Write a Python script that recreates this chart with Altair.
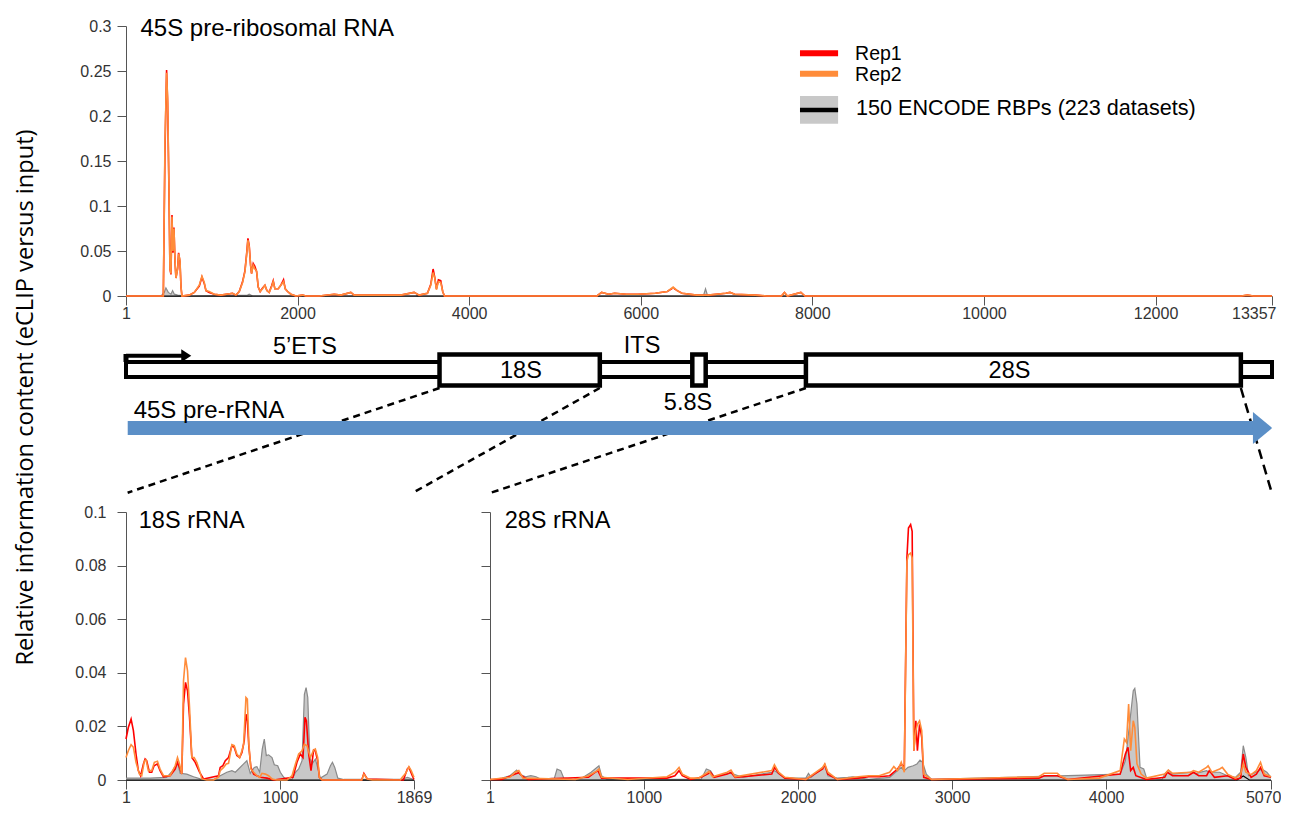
import altair as alt
import pandas as pd

# ---------------- 45S pre-ribosomal RNA (positions in nt, values = relative information) ----------------
P45_POS = [1, 400, 436, 455, 474, 486, 502, 513, 525, 537, 548, 560, 572, 583, 603, 614, 630, 642, 653,
           738, 797, 855, 886, 913, 933, 971, 1030, 1107, 1243, 1282, 1321, 1360, 1387, 1406, 1422, 1437,
           1453, 1464, 1484, 1503, 1523, 1542, 1565, 1593, 1620, 1643, 1670, 1697, 1717, 1736, 1775, 1806,
           1837, 1857, 1884, 1923, 1981, 2059, 2098, 2253, 2427, 2505, 2621, 2660, 2815, 3010, 3204, 3359,
           3417, 3514, 3553, 3580, 3599, 3619, 3642, 3669, 3692, 3712, 5490, 5544, 5626, 5695, 5831, 5968,
           6171, 6310, 6378, 6425, 6481, 6650, 6787, 6992, 7040, 7095, 7334, 7470, 7640, 7675, 7709, 7866,
           7914, 13000, 13071, 13140, 13357]
P45_REP2 = [0, 0, 0, 0.17, 0.248, 0.22, 0.12, 0.03, 0.025, 0.088, 0.05, 0.075, 0.04, 0.02, 0.03, 0.047, 0.04, 0.01, 0,
            0.001, 0.004, 0.012, 0.022, 0.015, 0.006, 0.005, 0.002, 0.001, 0.003, 0.001, 0.005, 0.015, 0.027, 0.045, 0.062, 0.055,
            0.035, 0.025, 0.034, 0.03, 0.028, 0.01, 0.005, 0.008, 0.012, 0.006, 0.004, 0.01, 0.016, 0.008, 0.008, 0.012,
            0.016, 0.008, 0.005, 0.002, 0, 0.001, 0, 0, 0.002, 0.001, 0.004, 0.001, 0.001, 0.001, 0.001, 0.004,
            0.001, 0.003, 0.012, 0.026, 0.02, 0.007, 0.016, 0.015, 0.005, 0, 0, 0.004, 0.002, 0.003, 0.002, 0.002,
            0.003, 0.005, 0.01, 0.006, 0.003, 0.001, 0.001, 0.003, 0.004, 0.002, 0.001, 0, 0, 0.004, 0, 0.004,
            0, 0, 0.001, 0, 0]
P45_REP1 = [0, 0, 0, 0.16, 0.251, 0.215, 0.115, 0.03, 0.024, 0.09, 0.048, 0.076, 0.038, 0.02, 0.031, 0.048, 0.038, 0.01, 0,
            0.001, 0.004, 0.011, 0.021, 0.014, 0.006, 0.004, 0.002, 0.001, 0.003, 0.001, 0.005, 0.016, 0.028, 0.046, 0.064, 0.056,
            0.034, 0.025, 0.036, 0.033, 0.027, 0.01, 0.005, 0.009, 0.012, 0.006, 0.004, 0.011, 0.017, 0.008, 0.008, 0.012,
            0.018, 0.008, 0.005, 0.002, 0, 0.001, 0, 0, 0.002, 0.001, 0.004, 0.001, 0.001, 0.001, 0.001, 0.004,
            0.001, 0.003, 0.013, 0.03, 0.021, 0.008, 0.018, 0.017, 0.005, 0, 0, 0.004, 0.002, 0.003, 0.002, 0.002,
            0.003, 0.005, 0.009, 0.006, 0.003, 0.001, 0.001, 0.003, 0.004, 0.002, 0.001, 0, 0, 0.004, 0, 0.004,
            0, 0, 0.001, 0, 0]
P45_ENC_POS = [1, 410, 447, 466, 494, 525, 544, 564, 603, 719, 1418, 1437, 1476, 3380, 3400, 3420, 6730, 6755, 6780, 13357]
P45_ENC = [0, 0, 0.004, 0.009, 0.004, 0.002, 0.006, 0.002, 0.001, 0, 0.001, 0.002, 0, 0, 0.001, 0, 0, 0.008, 0, 0]
P45_MED_POS = [1, 13357]
P45_MED = [0, 0]

# ---------------- 18S rRNA ----------------
R18_REP1_POS = [1, 16, 34, 49, 66, 81, 96, 114, 125, 135, 153, 168, 183, 205, 222, 244, 287, 320, 335, 352,
                363, 374, 387, 400, 413, 428, 450, 478, 504, 601, 612, 629, 645, 666, 688, 703, 720, 738, 753, 768,
                779, 788, 798, 811, 829, 850, 872, 915, 959, 1084, 1110, 1132, 1149, 1162, 1171, 1186, 1201, 1218,
                1229, 1244, 1255, 1275, 1530, 1544, 1566, 1800, 1826, 1836, 1858, 1869]
R18_REP1 = [0.0153, 0.0196, 0.0227, 0.0184, 0.0097, 0.0035, 0.0016, 0.006, 0.0078, 0.0072, 0.0029, 0.0029, 0.0053,
            0.006, 0.0035, 0.0012, 0.0016, 0.0041, 0.0066, 0.0041, 0.0022, 0.0283, 0.0364, 0.0333, 0.0234, 0.0084,
            0.0066, 0.0029, 0.0004, 0.0016, 0.0047, 0.0053, 0.0072, 0.0084, 0.0128, 0.0122, 0.0091, 0.0084, 0.0103,
            0.0147, 0.0246, 0.0221, 0.0122, 0.0047, 0.0022, 0.0016, 0.001, 0.0007, 0, 0.001, 0.0066, 0.0097, 0.0084,
            0.0234, 0.0221, 0.0097, 0.0035, 0.0112, 0.0109, 0.0072, 0.001, 0, 0, 0.0025, 0.0004, 0, 0.0041, 0.0047,
            0.0016, 0.0002]
R18_REP2_POS = [1, 16, 34, 49, 66, 88, 103, 120, 131, 146, 168, 185, 205, 222, 244, 287, 320, 335, 348, 363,
                374, 387, 400, 413, 428, 443, 460, 478, 493, 525, 569, 601, 612, 634, 651, 666, 688, 703, 720, 738,
                753, 764, 779, 788, 798, 811, 829, 850, 868, 883, 905, 926, 948, 980, 1045, 1078, 1100, 1121, 1143,
                1158, 1175, 1197, 1218, 1229, 1244, 1255, 1273, 1530, 1544, 1566, 1600, 1780, 1793, 1815, 1836, 1851,
                1869]
R18_REP2 = [0.0084, 0.0109, 0.0132, 0.0122, 0.0066, 0.0022, 0.0016, 0.007, 0.0075, 0.0035, 0.0035, 0.0066, 0.007,
            0.0041, 0.0016, 0.0016, 0.0053, 0.0084, 0.006, 0.0022, 0.037, 0.0457, 0.0407, 0.0271, 0.0084, 0.0084,
            0.0066, 0.0035, 0.0004, 0, 0, 0.001, 0.0035, 0.0047, 0.006, 0.0062, 0.0132, 0.0128, 0.0097, 0.0084,
            0.0109, 0.0134, 0.0308, 0.0302, 0.0134, 0.0041, 0.0029, 0.0016, 0.001, 0.0025, 0.0022, 0.0016, 0.0004,
            0, 0, 0.0016, 0.006, 0.0097, 0.0109, 0.0134, 0.0128, 0.0084, 0.0112, 0.0116, 0.0084, 0.001, 0, 0,
            0.0022, 0.0004, 0, 0, 0.001, 0.0025, 0.005, 0.0035, 0.001]
R18_ENC_POS = [1, 157, 265, 304, 335, 352, 395, 439, 482, 569, 612, 655, 688, 710, 731, 764, 785, 807, 833, 850,
               868, 885, 898, 911, 926, 948, 963, 985, 1002, 1024, 1045, 1078, 1100, 1121, 1143, 1158, 1169, 1180,
               1193, 1208, 1229, 1244, 1262, 1305, 1327, 1340, 1355, 1375, 1414, 1782, 1826, 1869]
R18_ENC = [0.0007, 0.0007, 0.001, 0.0035, 0.0066, 0.0025, 0.0022, 0.0012, 0.0004, 0.0002, 0.0016, 0.0029, 0.0035,
           0.0029, 0.0041, 0.006, 0.0072, 0.0025, 0.0047, 0.005, 0.0029, 0.0116, 0.0153, 0.0091, 0.0094, 0.0084,
           0.0057, 0.0053, 0.0029, 0.001, 0.0002, 0.0002, 0.0029, 0.0041, 0.0072, 0.032, 0.0345, 0.0308, 0.0084,
           0.006, 0.0078, 0.0047, 0.0007, 0.0022, 0.0053, 0.0066, 0.0047, 0.0007, 0.0002, 0.0002, 0.001, 0.0002]
R18_MED_POS = [1, 1869]
R18_MED = [0, 0]

# ---------------- 28S rRNA ----------------
R28_REP1_POS = [1, 79, 113, 164, 188, 215, 249, 640, 674, 701, 725, 1150, 1201, 1228, 1249, 1303, 1371, 1412, 1432,
                1456, 1541, 1565, 1592, 1830, 1847, 1874, 1915, 2051, 2160, 2174, 2194, 2255, 2391, 2459, 2527, 2595,
                2646, 2670, 2690, 2707, 2717, 2731, 2741, 2752, 2765, 2775, 2789, 2803, 2816, 2867, 3564, 3598, 3683,
                3751, 4091, 4125, 4142, 4159, 4176, 4193, 4261, 4380, 4397, 4431, 4533, 4567, 4601, 4652, 4669, 4703,
                4788, 4839, 4873, 4890, 4907, 4941, 4975, 5002, 5026, 5070]
R28_REP1 = [0.0002, 0.0002, 0.001, 0.0022, 0.0027, 0.0012, 0.0002, 0.001, 0.0025, 0.0035, 0.0007, 0.0007, 0.0016,
            0.0035, 0.0016, 0.0002, 0.001, 0.0022, 0.0029, 0.001, 0.0022, 0.0029, 0.001, 0.0022, 0.0047, 0.0025,
            0.0007, 0.0002, 0.0041, 0.0057, 0.0022, 0.0002, 0.0007, 0.0012, 0.0012, 0.0016, 0.0041, 0.006, 0.0047,
            0.0829, 0.094, 0.0953, 0.0928, 0.0109, 0.0221, 0.0109, 0.0208, 0.0159, 0.001, 0.0002, 0.0007, 0.0016,
            0.0016, 0.0002, 0.0022, 0.0097, 0.0122, 0.0035, 0.0047, 0.0016, 0.0002, 0.001, 0.0029, 0.0016, 0.0016,
            0.0029, 0.0016, 0.0016, 0.0035, 0.001, 0.0016, 0.0002, 0.0007, 0.0097, 0.0047, 0.001, 0.0022, 0.0047,
            0.0016, 0.001]
R28_REP2_POS = [1, 130, 164, 188, 215, 555, 640, 691, 708, 725, 895, 1150, 1201, 1228, 1249, 1303, 1354, 1405, 1422,
                1446, 1541, 1565, 1592, 1830, 1847, 1874, 1915, 2051, 2160, 2174, 2194, 2255, 2391, 2459, 2527, 2595,
                2622, 2646, 2670, 2690, 2707, 2717, 2731, 2741, 2752, 2765, 2775, 2789, 2803, 2816, 2867, 3564, 3598,
                3683, 3700, 3751, 3955, 4091, 4118, 4132, 4146, 4159, 4176, 4186, 4200, 4227, 4261, 4380, 4404, 4431,
                4550, 4567, 4601, 4652, 4662, 4686, 4737, 4754, 4788, 4839, 4873, 4890, 4907, 4941, 4975, 5002, 5026,
                5070]
R28_REP2 = [0.0002, 0.001, 0.0029, 0.0035, 0.0007, 0.0002, 0.0016, 0.0032, 0.0041, 0.001, 0.0002, 0.0012, 0.0029,
            0.0047, 0.0022, 0.0007, 0.0007, 0.0025, 0.0032, 0.0012, 0.0029, 0.0037, 0.0012, 0.0035, 0.0057, 0.0029,
            0.001, 0.0002, 0.0047, 0.006, 0.0029, 0.0002, 0.0012, 0.0016, 0.0016, 0.0029, 0.005, 0.0035, 0.0066,
            0.0029, 0.0816, 0.0841, 0.0847, 0.0829, 0.0109, 0.0184, 0.0208, 0.0221, 0.0184, 0.0022, 0.0002, 0.0012,
            0.0025, 0.0025, 0.0016, 0.0002, 0.0007, 0.0035, 0.0153, 0.014, 0.0283, 0.0109, 0.0221, 0.0196, 0.006,
            0.0022, 0.0007, 0.0022, 0.0037, 0.0025, 0.0029, 0.0035, 0.0029, 0.0047, 0.0053, 0.0029, 0.0041, 0.0047,
            0.0022, 0.0007, 0.0022, 0.006, 0.0029, 0.002, 0.0035, 0.0066, 0.0022, 0.0012]
R28_ENC_POS = [1, 79, 130, 174, 198, 232, 266, 300, 334, 419, 436, 460, 480, 538, 606, 657, 708, 725, 759, 1371,
               1405, 1432, 1456, 1541, 1565, 1643, 1830, 1847, 1915, 2051, 2068, 2085, 2160, 2174, 2194, 2255, 2323,
               2357, 2459, 2595, 2646, 2670, 2690, 2714, 2748, 2772, 2792, 2809, 2833, 2867, 4091, 4125, 4152, 4176,
               4186, 4200, 4220, 4244, 4261, 4363, 4380, 4404, 4431, 4550, 4584, 4652, 4669, 4737, 4788, 4839, 4873,
               4890, 4907, 4924, 4958, 4992, 5009, 5043, 5070]
R28_ENC = [0, 0.0007, 0.0016, 0.0037, 0.002, 0.0012, 0.0016, 0.0012, 0.0002, 0.0007, 0.0041, 0.0035, 0.0007, 0.0002,
           0.001, 0.0029, 0.0053, 0.0016, 0.0002, 0.0002, 0.0041, 0.0035, 0.0012, 0.0025, 0.0025, 0.001, 0.0029,
           0.0035, 0.0007, 0.0007, 0.0025, 0.001, 0.0047, 0.0053, 0.0016, 0.0007, 0.001, 0.0012, 0.0002, 0.001,
           0.0035, 0.0047, 0.0035, 0.0047, 0.0053, 0.006, 0.0074, 0.0066, 0.0022, 0.0002, 0.0022, 0.0072, 0.0208,
           0.0333, 0.0342, 0.0283, 0.0047, 0.0041, 0.001, 0.0002, 0.0022, 0.0037, 0.0022, 0.0029, 0.0025, 0.0035,
           0.0029, 0.0029, 0.0016, 0.001, 0.0029, 0.0128, 0.0084, 0.0016, 0.0025, 0.0035, 0.0041, 0.0029, 0.001]
R28_MED_POS = [1, 4850, 4890, 4930, 5070]
R28_MED = [0, 0, 0.0015, 0, 0]

# ---------------- axis ticks ----------------
P45_XTICKS = [1, 2000, 4000, 6000, 8000, 10000, 12000, 13357]
P45_YTICKS = [0, 0.05, 0.1, 0.15, 0.2, 0.25, 0.3]
R18_XTICKS = [1, 1000, 1869]
R28_XTICKS = [1, 1000, 2000, 3000, 4000, 5070]
R_YTICKS = [0, 0.02, 0.04, 0.06, 0.08, 0.1]

# ---------------- 45S gene structure (nt) ----------------
BOX_NAMES = ["18S", "5.8S", "28S"]
BOX_START = [3655, 6601, 7925]
BOX_END = [5523, 6757, 12994]

FONT = "Liberation Sans"
RED = "#ff0000"
ORANGE = "#ff8c3a"
GRAY_FILL = "#c8c8c8"
GRAY_LINE = "#8a8a8a"
BLUE = "#5b8fc7"


def encs(xdom, ydom, xticks, yticks, ylabels, ylabelpad, last=None, last_off=0):
    xaxis = dict(values=xticks, format="d", title=None, labelPadding=0)
    if last is not None:
        xaxis["labelAlign"] = {"condition": {"test": "datum.value == %d" % last, "value": "right"},
                               "value": "center"}
        xaxis["labelOffset"] = {"condition": {"test": "datum.value == %d" % last, "value": last_off},
                                "value": 0}
    x = alt.X("pos:Q", scale=alt.Scale(domain=xdom, nice=False, zero=False), axis=alt.Axis(**xaxis))
    y = alt.Y("val:Q", scale=alt.Scale(domain=ydom, nice=False, zero=False),
              axis=alt.Axis(values=yticks, format=".2~f", title=None, labels=ylabels, labelPadding=ylabelpad))
    return x, y


def series_layers(x, y, enc_pos, enc, med_pos, med, r1_pos, r1, r2_pos, r2):
    d_enc = pd.DataFrame({"pos": enc_pos, "val": enc})
    d_med = pd.DataFrame({"pos": med_pos, "val": med})
    d_r1 = pd.DataFrame({"pos": r1_pos, "val": r1})
    d_r2 = pd.DataFrame({"pos": r2_pos, "val": r2})
    return [
        alt.Chart(d_enc).mark_area(color=GRAY_FILL, opacity=1).encode(x=x, y=y),
        alt.Chart(d_enc).mark_line(color=GRAY_LINE, strokeWidth=1.2).encode(x=x, y=y),
        alt.Chart(d_med).mark_line(color="black", strokeWidth=1.2).encode(x=x, y=y),
        alt.Chart(d_r1).mark_line(color=RED, strokeWidth=1.6).encode(x=x, y=y),
        alt.Chart(d_r2).mark_line(color=ORANGE, strokeWidth=1.6).encode(x=x, y=y),
    ]


def title_layer(x, y, pos, val, text, fs):
    d = pd.DataFrame({"pos": [pos], "val": [val], "t": [text]})
    return alt.Chart(d).mark_text(align="left", baseline="alphabetic", font=FONT, fontSize=fs,
                                  color="black").encode(x=x, y=y, text="t:N")


# ---------- top panel ----------
x45, y45 = encs([1, 13357], [0, 0.3], P45_XTICKS, P45_YTICKS, True, 6, last=13357, last_off=4)
top_layers = series_layers(x45, y45, P45_ENC_POS, P45_ENC, P45_MED_POS, P45_MED,
                           P45_POS, P45_REP1, P45_POS, P45_REP2)
top_layers.append(title_layer(x45, y45, 170, 0.2891, "45S pre-ribosomal RNA", 24))

leg_gray = pd.DataFrame({"pos": [7856], "pos2": [8300], "val": [0.2222], "val2": [0.1914]})
leg_lines = pd.DataFrame({"pos": [7856, 7856, 7856], "pos2": [8300, 8300, 8300],
                          "val": [0.2697, 0.2470, 0.2067], "c": [RED, ORANGE, "black"],
                          "w": [6, 6, 4.5]})
leg_text = pd.DataFrame({"pos": [8498, 8498, 8509], "val": [0.2689, 0.2456, 0.2078],
                         "t": ["Rep1", "Rep2", "150 ENCODE RBPs (223 datasets)"], "fs": [19.5, 19.5, 21.6]})
top_layers += [
    alt.Chart(leg_gray).mark_rect(color=GRAY_FILL).encode(x=x45, x2="pos2:Q", y=y45, y2="val2:Q"),
    alt.Chart(leg_lines).mark_rule().encode(x=x45, x2="pos2:Q", y=y45,
                                             color=alt.Color("c:N", scale=None),
                                             strokeWidth=alt.StrokeWidth("w:Q", scale=None)),
    alt.Chart(leg_text).mark_text(align="left", baseline="middle", font=FONT, color="black").encode(
        x=x45, y=y45, text="t:N", size=alt.Size("fs:Q", scale=None)),
]
top = alt.layer(*top_layers).properties(width=1146, height=270)

# ---------- schematic ----------
SX = alt.Scale(domain=[1, 13357], nice=False, zero=False)
SY = alt.Scale(domain=[206, 0], nice=False, zero=False)


def sxe(f):
    return alt.X(f, scale=SX, axis=None)


def sye(f):
    return alt.Y(f, scale=SY, axis=None)


thin = pd.DataFrame({"a": [1], "b": [13357], "c": [61], "d": [76]})
boxes = pd.DataFrame({"a": BOX_START, "b": BOX_END, "c": [53.5] * 3, "d": [84.5] * 3, "n": BOX_NAMES})
dash_a = pd.DataFrame({"a": [BOX_START[0], BOX_END[0], BOX_START[2]], "c": [87, 87, 87],
                       "b": [20, 3346, 4255], "d": [191.7, 191.7, 191.7]})
dash_b = pd.DataFrame({"a": [BOX_END[2]], "c": [87], "b": [13354], "d": [191.7]})
tss_h = pd.DataFrame({"a": [1], "b": [690], "c": [54.7]})
tss_v = pd.DataFrame({"a": [1], "c": [53], "d": [61]})
tss_head = pd.DataFrame({"a": [703], "c": [54.7]})
blue_bar = pd.DataFrame({"a": [21], "b": [13136], "c": [127]})
blue_head = pd.DataFrame({"a": [13247], "c": [127]})
lab_c = pd.DataFrame({"a": [2087, 6015, 4604, 10298, 6551], "c": [45.5, 45, 70, 70, 102],
                      "t": ["5\u2019ETS", "ITS", "18S", "28S", "5.8S"]})
lab_l = pd.DataFrame({"a": [90], "c": [110], "t": ["45S pre-rRNA"]})
ytitle = pd.DataFrame({"t": ["Relative information content (eCLIP versus input)"]})

schem = alt.layer(
    alt.Chart(dash_a).mark_rule(color="black", strokeWidth=2.5, strokeDash=[7, 5]).encode(
        x=sxe("a:Q"), y=sye("c:Q"), x2="b:Q", y2="d:Q"),
    alt.Chart(dash_b).mark_rule(color="black", strokeWidth=2.5, strokeDash=[10, 6]).encode(
        x=sxe("a:Q"), y=sye("c:Q"), x2="b:Q", y2="d:Q"),
    alt.Chart(thin).mark_rect(fill="white", stroke="black", strokeWidth=4).encode(
        x=sxe("a:Q"), x2="b:Q", y=sye("c:Q"), y2="d:Q"),
    alt.Chart(boxes).mark_rect(fill="white", stroke="black", strokeWidth=4.5).encode(
        x=sxe("a:Q"), x2="b:Q", y=sye("c:Q"), y2="d:Q"),
    alt.Chart(tss_h).mark_rule(color="black", strokeWidth=4).encode(x=sxe("a:Q"), x2="b:Q", y=sye("c:Q")),
    alt.Chart(tss_v).mark_rule(color="black", strokeWidth=5).encode(x=sxe("a:Q"), y=sye("c:Q"), y2="d:Q"),
    alt.Chart(tss_head).mark_point(shape="M -0.77 -1 L 0.77 0 L -0.77 1 Z", filled=True, size=169,
                                   color="black", opacity=1).encode(x=sxe("a:Q"), y=sye("c:Q")),
    alt.Chart(blue_bar).mark_rule(color=BLUE, strokeWidth=14).encode(x=sxe("a:Q"), x2="b:Q", y=sye("c:Q")),
    alt.Chart(blue_head).mark_point(shape="M -0.6 -1 L 0.6 0 L -0.6 1 Z", filled=True, size=1024,
                                    color=BLUE, opacity=1).encode(x=sxe("a:Q"), y=sye("c:Q")),
    alt.Chart(lab_c).mark_text(align="center", baseline="middle", font=FONT, fontSize=23.5,
                               color="black").encode(x=sxe("a:Q"), y=sye("c:Q"), text="t:N"),
    alt.Chart(lab_l).mark_text(align="left", baseline="middle", font=FONT, fontSize=24,
                               color="black").encode(x=sxe("a:Q"), y=sye("c:Q"), text="t:N"),
    alt.Chart(ytitle).mark_text(angle=270, align="center", baseline="top", font="Open Sans", fontSize=23.6,
                                color="black").encode(x=alt.value(-112), y=alt.value(96.5), text="t:N"),
).properties(width=1146, height=206)

# ---------- bottom panels ----------
x18, y18 = encs([1, 1869], [0, 0.1], R18_XTICKS, R_YTICKS, True, 11)
l18 = series_layers(x18, y18, R18_ENC_POS, R18_ENC, R18_MED_POS, R18_MED,
                    R18_REP1_POS, R18_REP1, R18_REP2_POS, R18_REP2)
l18.append(title_layer(x18, y18, 84, 0.0939, "18S rRNA", 23.5))
c18 = alt.layer(*l18).properties(width=288, height=268)

x28, y28 = encs([1, 5070], [0, 0.1], R28_XTICKS, R_YTICKS, False, 11, last=5070, last_off=10)
l28 = series_layers(x28, y28, R28_ENC_POS, R28_ENC, R28_MED_POS, R28_MED,
                    R28_REP1_POS, R28_REP1, R28_REP2_POS, R28_REP2)
l28.append(title_layer(x28, y28, 96, 0.0939, "28S rRNA", 23.5))
c28 = alt.layer(*l28).properties(width=781, height=268)

bottom = alt.hconcat(c18, c28, spacing=76, bounds="flush").resolve_scale(x="independent", y="independent")

chart = alt.vconcat(top, schem, bottom, spacing=5, bounds="flush").resolve_scale(
    x="independent", y="independent"
).properties(
    padding={"left": 5, "top": 8, "right": 0, "bottom": 0}
).configure_view(stroke=None).configure_axis(
    labelFont=FONT, labelFontSize=16, labelColor="#333333", domainColor="#555555", tickColor="#555555",
    tickSize=9, grid=False, labelFlush=False, labelOverlap=False, labelBound=False,
)

chart.save("out.html", embed_options={"renderer": "svg", "actions": False})
